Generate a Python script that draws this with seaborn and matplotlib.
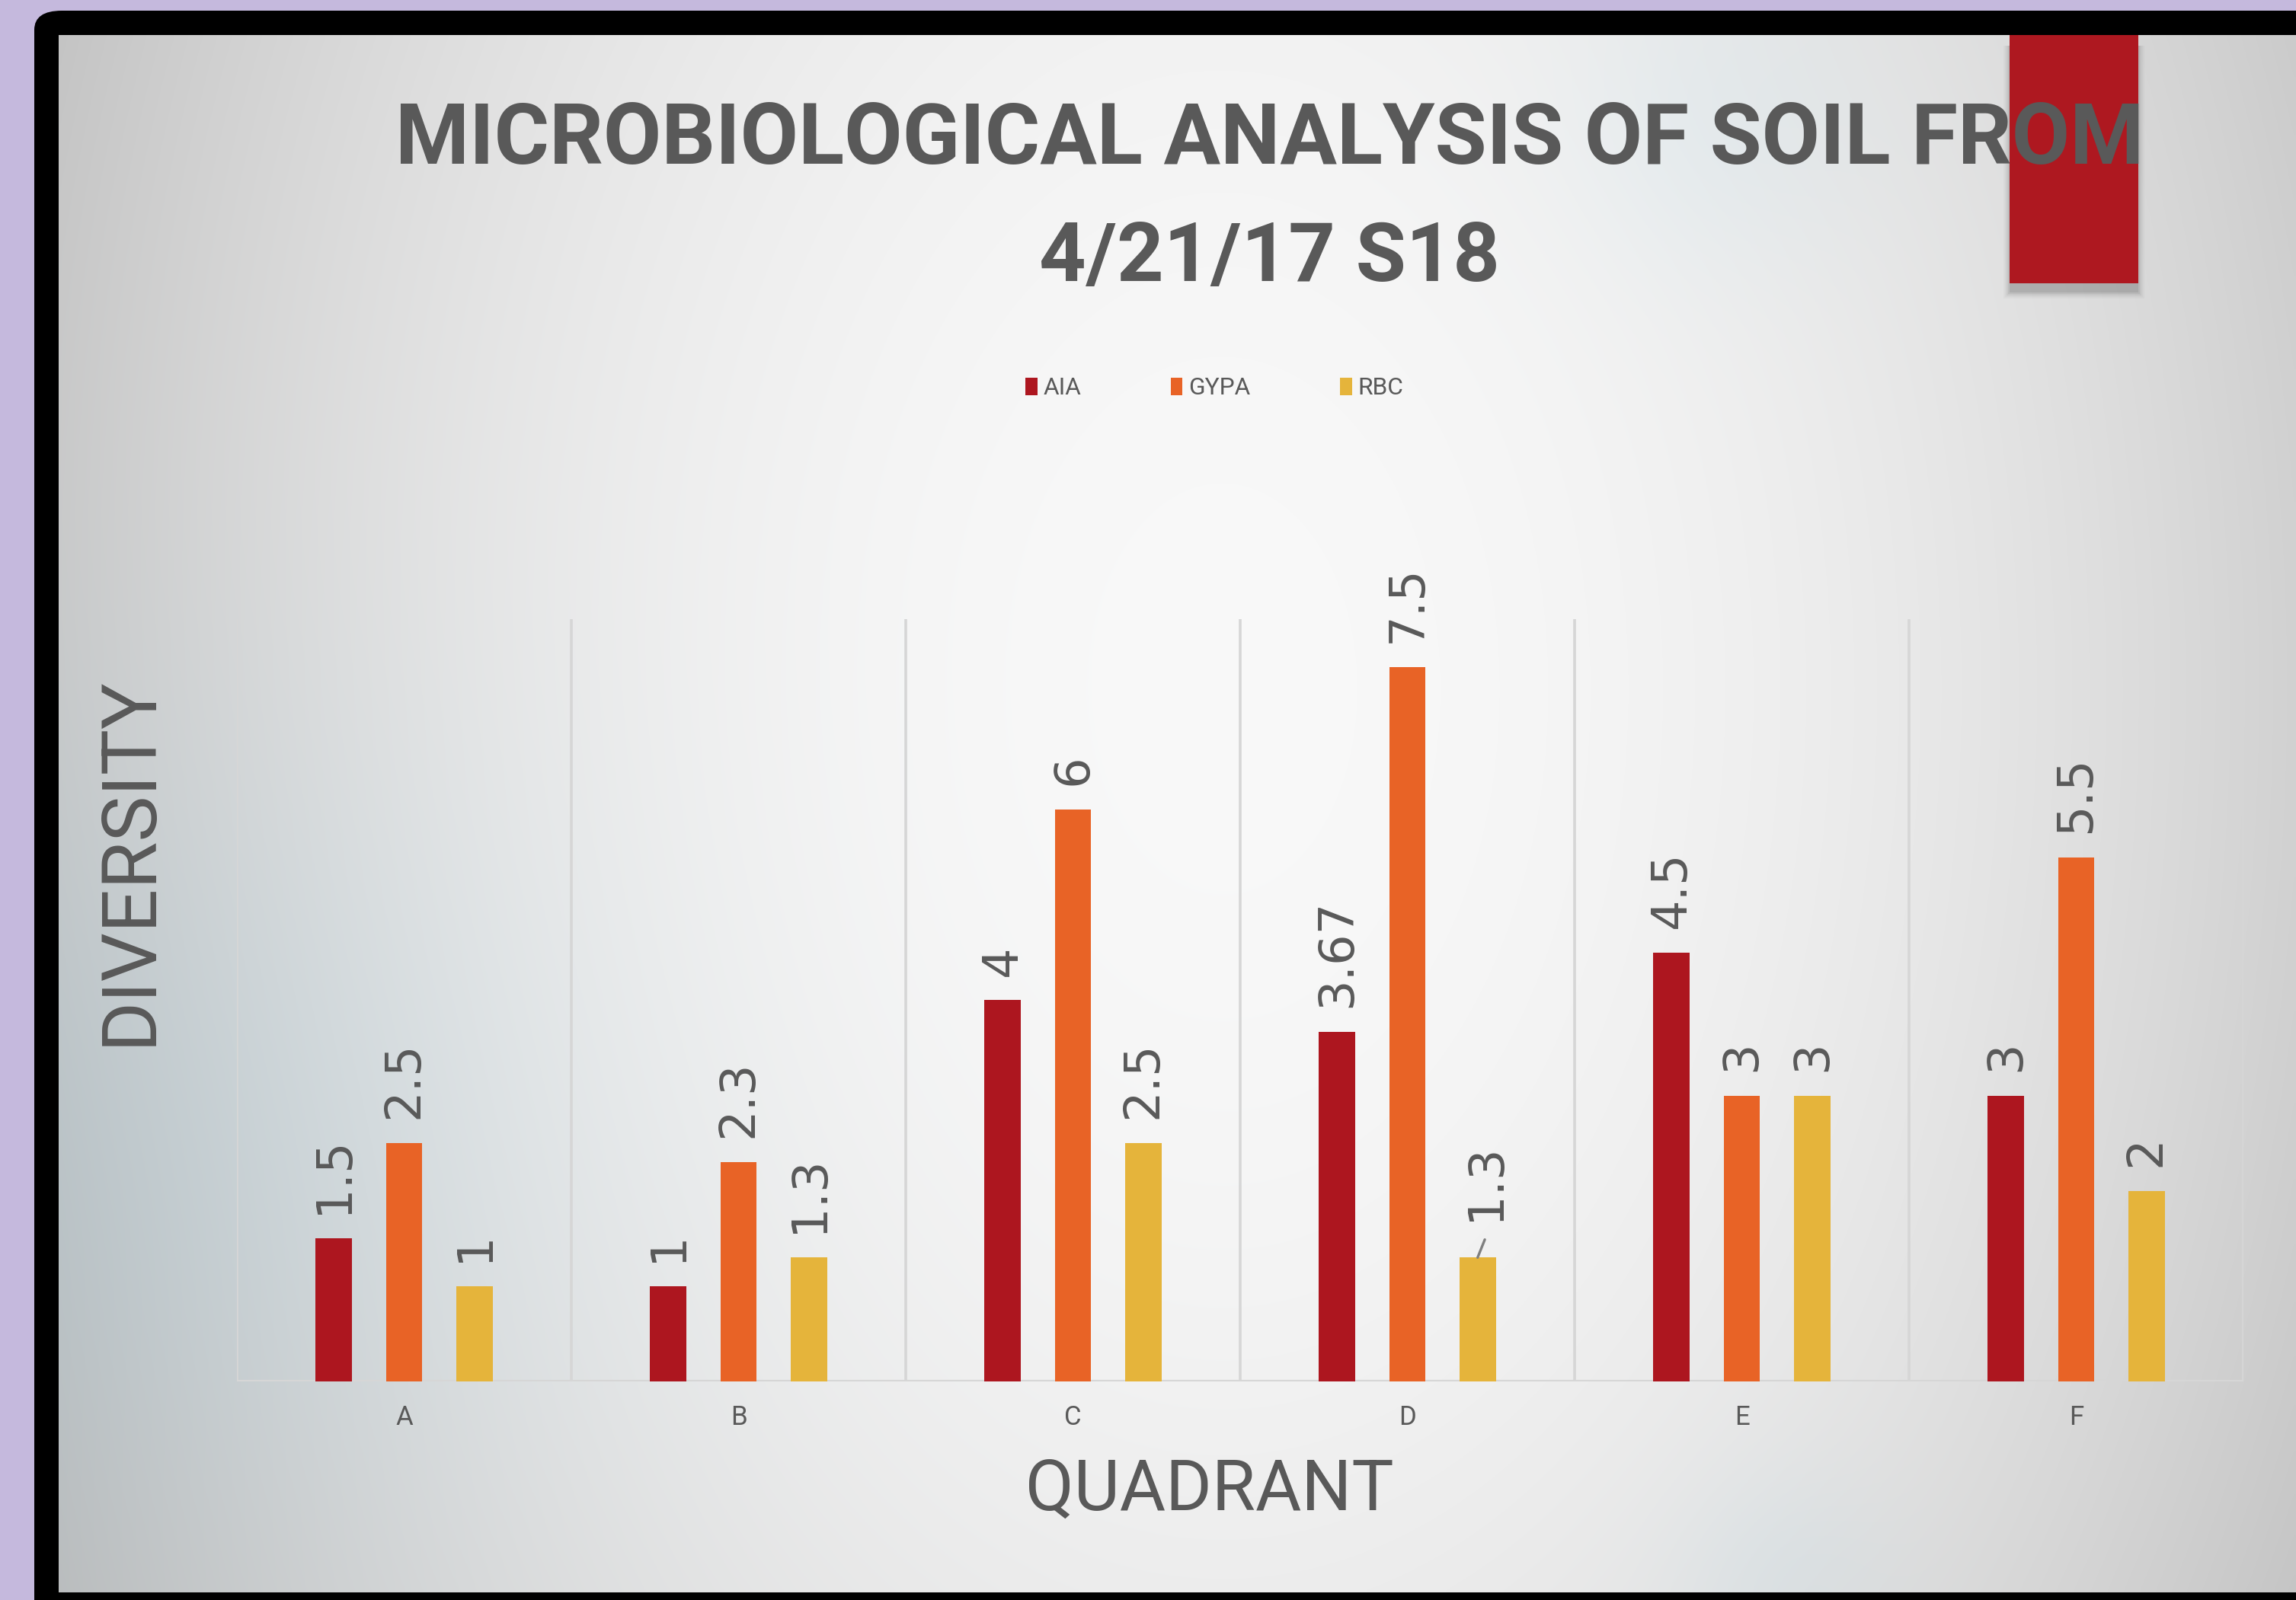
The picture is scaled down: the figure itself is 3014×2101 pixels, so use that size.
import numpy as np
import pandas as pd
import matplotlib
matplotlib.use("Agg")
import matplotlib.pyplot as plt
import seaborn as sns
from matplotlib.patches import FancyBboxPatch, Rectangle

# ================= DADOS =================
QUADRANTES = ["A", "B", "C", "D", "E", "F"]
MEIOS = ["AIA", "GYPA", "RBC"]
AIA = [1.5, 1, 4, 3.67, 4.5, 3]
GYPA = [2.5, 2.3, 6, 7.5, 3, 5.5]
RBC = [1, 1.3, 2.5, 1.3, 3, 2]

TITULO_1 = "MICROBIOLOGICAL ANALYSIS OF SOIL FROM"
TITULO_2 = "4/21/17 S18"

# ================= CONFIGURAÇÕES =================
CORES = ["#AD161F", "#E86326", "#E5B43B"]
CINZA = "#595959"
W, H, DPI = 3014, 2101, 200


def fx(x):
    return x / W


def fy(y):
    return 1 - y / H


sns.set_theme(style="white")
FONTE = ["Liberation Sans Narrow", "Roboto", "DejaVu Sans"]
plt.rcParams["font.family"] = FONTE

fig = plt.figure(figsize=(W / DPI, H / DPI), dpi=DPI, facecolor="#C5B9DD")

# moldura preta do slide
moldura = FancyBboxPatch((fx(45), -0.1), 1.2, fy(14) + 0.1,
                         boxstyle="round,pad=0,rounding_size=0.012",
                         transform=fig.transFigure, facecolor="black",
                         edgecolor="none", zorder=-1)
fig.patches.append(moldura)

# fundo do slide (gradiente cinza claro com manchas azuladas)
ax_bg = fig.add_axes([fx(77), fy(2091), 1 - fx(77), fy(46) - fy(2091)], zorder=0)
u, v = np.meshgrid(np.linspace(0, 1, 500), np.linspace(0, 1, 350))
d = 0.9 * ((u - 0.52) / 0.52) ** 2 + 0.25 * ((v - 0.42) / 0.6) ** 2
val = 0.975 - 0.2 * d
rgb = np.dstack([val, val, val])
for cu, cv, r, k in [(0.04, 0.72, 0.2, 0.05), (0.74, 0.06, 0.07, 0.03), (0.77, 0.99, 0.05, 0.03)]:
    blob = np.exp(-(((u - cu) / r) ** 2 + ((v - cv) / (r * 1.4)) ** 2))
    rgb[..., 0] -= k * blob
    rgb[..., 1] -= 0.3 * k * blob
rgb = np.clip(rgb, 0, 1)
ax_bg.imshow(rgb, aspect="auto", extent=(0, 1, 0, 1), interpolation="bilinear")
ax_bg.set_axis_off()

# retângulo vermelho decorativo com sombra suave
for i, alfa in enumerate([0.10, 0.08, 0.06, 0.04, 0.03]):
    s = 2 * i
    sombra = Rectangle((fx(2638 - s), fy(384 + s)), fx(2807 + s) - fx(2638 - s),
                       fy(60) - fy(384 + s), transform=fig.transFigure,
                       facecolor="#333333", alpha=alfa, edgecolor="none", zorder=1)
    fig.patches.append(sombra)
faixa = Rectangle((fx(2638), fy(372)), fx(2807) - fx(2638), fy(46) - fy(372),
                  transform=fig.transFigure, facecolor="#AE1820",
                  edgecolor="none", zorder=1.5)
fig.patches.append(faixa)

# ================= GRÁFICO =================
df = pd.DataFrame({
    "Quadrant": QUADRANTES * 3,
    "Medium": np.repeat(MEIOS, len(QUADRANTES)),
    "Diversity": AIA + GYPA + RBC,
})

ax = fig.add_axes([fx(311), fy(1814), fx(2945) - fx(311), fy(813) - fy(1814)], zorder=2)
ax.patch.set_alpha(0)
sns.barplot(data=df, x="Quadrant", y="Diversity", hue="Medium", palette=CORES,
            saturation=1, width=0.63, gap=0.48, errorbar=None, linewidth=0, ax=ax)

ax.set_xlim(-0.5, len(QUADRANTES) - 0.5)
ax.set_ylim(0, 8)
ax.set_yticks([])
sns.despine(ax=ax, left=True, bottom=True)
for xs in np.arange(-0.5, len(QUADRANTES), 1):
    ax.axvline(xs, color="#D6D6D6", lw=1.3, zorder=0)
ax.axhline(0, color="#D6D6D6", lw=1.5, zorder=0)
ax.tick_params(axis="x", length=0, pad=11, labelsize=12.5, labelcolor=CINZA)

# rótulos de dados
for cont, serie in zip(ax.containers, [AIA, GYPA, RBC]):
    for barra, valor in zip(cont, serie):
        xc = barra.get_x() + barra.get_width() / 2
        topo = barra.get_height()
        texto = f"{valor:g}"
        if cont is ax.containers[2] and barra is cont[3]:
            # rótulo deslocado com linha guia
            ax.annotate("", xy=(xc, topo), xytext=(3.4, 8.5), textcoords="offset points",
                        arrowprops=dict(arrowstyle="-", color="#7F7F7F", lw=1.2,
                                        shrinkA=0, shrinkB=0))
            ax.annotate(texto, xy=(xc, topo), xytext=(3.8, 17.5), textcoords="offset points",
                        rotation=90, ha="center", va="bottom", fontsize=23,
                        color=CINZA, family="DejaVu Sans")
        else:
            ax.annotate(texto, xy=(xc, topo), xytext=(0, 11.5), textcoords="offset points",
                        rotation=90, ha="center", va="bottom", fontsize=23,
                        color=CINZA, family="DejaVu Sans")

ax.set_xlabel("QUADRANT", color=CINZA, fontsize=38, va="center")
ax.xaxis.set_label_coords((1588 - 311) / 2634, (1814 - 1957) / 1001)
ax.set_ylabel("DIVERSITY", color=CINZA, fontsize=36, va="center", ha="center")
ax.yaxis.set_label_coords((170 - 311) / 2634, (1814 - 1130) / 1001)

leg = ax.legend(loc="center", bbox_to_anchor=(fx(1594), fy(510)),
                bbox_transform=fig.transFigure, ncol=3, frameon=False,
                fontsize=11.4, columnspacing=3.7, handlelength=0.5,
                handleheight=0.75, handletextpad=0.25, labelcolor=CINZA, title=None)

# títulos
t1 = fig.text(fx(1667), fy(185), TITULO_1, ha="center", va="center",
              fontsize=44, fontweight="bold", color=CINZA, zorder=5)
t2 = fig.text(fx(1667), fy(340), TITULO_2, ha="center", va="center",
              fontsize=44, fontweight="bold", color=CINZA, zorder=5)


def ajustar_largura(texto, largura_px, vertical=False):
    fig.canvas.draw()
    bb = texto.get_window_extent()
    atual = bb.height if vertical else bb.width
    texto.set_fontsize(texto.get_fontsize() * largura_px / atual)


ajustar_largura(t1, 2297)
ajustar_largura(t2, 605)
ajustar_largura(ax.xaxis.label, 484)
ajustar_largura(ax.yaxis.label, 485, vertical=True)

fig.savefig("out.png", dpi=DPI, facecolor=fig.get_facecolor())
